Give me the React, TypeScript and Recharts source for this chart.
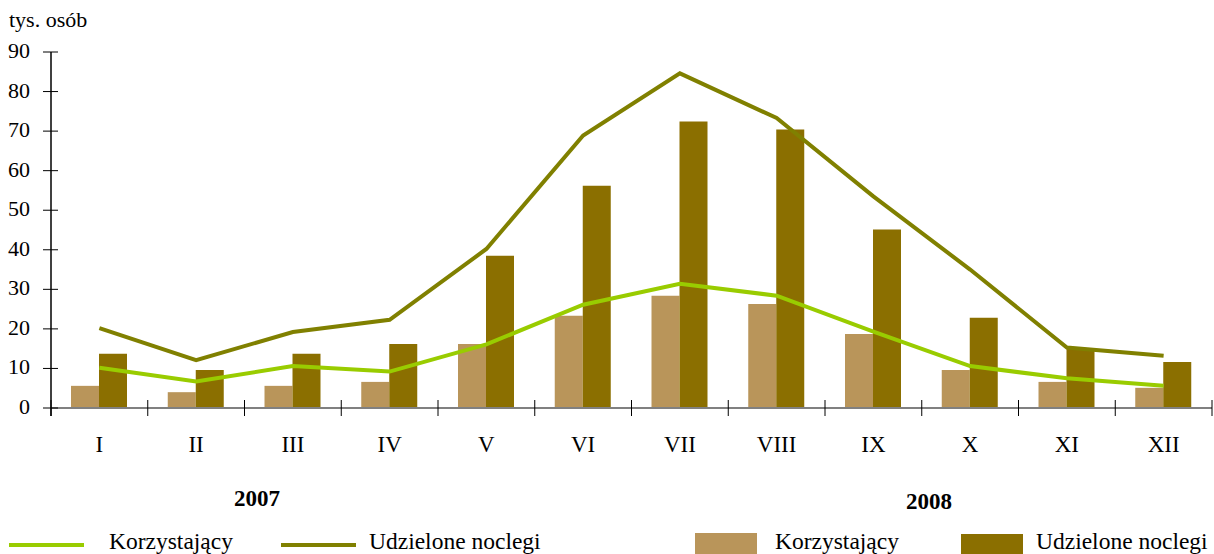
import { ComposedChart, Bar, Line, XAxis, YAxis } from 'recharts';

const months = ['I', 'II', 'III', 'IV', 'V', 'VI', 'VII', 'VIII', 'IX', 'X', 'XI', 'XII'];
// 2007 - lines
const korzystajacy2007 = [10.2, 6.7, 10.6, 9.2, 16.1, 26.1, 31.4, 28.4, 19.3, 10.6, 7.5, 5.6];
const noclegi2007 = [20.2, 12.1, 19.2, 22.3, 40.2, 68.9, 84.6, 73.3, 53.5, 35.0, 15.3, 13.2];
// 2008 - bars
const korzystajacy2008 = [5.6, 4.0, 5.6, 6.6, 16.2, 23.3, 28.4, 26.3, 18.7, 9.6, 6.6, 5.1];
const noclegi2008 = [13.7, 9.6, 13.7, 16.2, 38.5, 56.2, 72.4, 70.4, 45.1, 22.8, 15.1, 11.6];
const yTicks = [0, 10, 20, 30, 40, 50, 60, 70, 80, 90];

const data = months.map((m, i) => ({
  month: m,
  k2007: korzystajacy2007[i],
  n2007: noclegi2007[i],
  k2008: korzystajacy2008[i],
  n2008: noclegi2008[i],
}));

const FONT = '"Liberation Serif", "Times New Roman", serif';
const GREEN = '#99CC00';
const OLIVE = '#808000';
const TAN = '#B9955A';
const BROWN = '#8B6F00';

const W = 1214;
const H = 554;
const PLOT_LEFT = 51;
const PLOT_RIGHT = 1212;
const BAND = (PLOT_RIGHT - PLOT_LEFT) / months.length;

const XTick = ({ x, y, payload, index }: any) => (
  <g>
    <line x1={x - BAND / 2} x2={x - BAND / 2} y1={y - 8} y2={y + 8} stroke="#000" strokeWidth={1} />
    {index === months.length - 1 && (
      <line x1={x + BAND / 2} x2={x + BAND / 2} y1={y - 8} y2={y + 8} stroke="#000" strokeWidth={1} />
    )}
    <text x={x} y={y + 44} textAnchor="middle" fontFamily={FONT} fontSize={23} fill="#000">
      {payload.value}
    </text>
  </g>
);

const YTick = ({ y, payload }: any) => (
  <g>
    <line x1={PLOT_LEFT - 8} x2={PLOT_LEFT + 7} y1={y} y2={y} stroke="#000" strokeWidth={1} />
    {payload.value === 0 && (
      <line x1={PLOT_LEFT} x2={PLOT_LEFT} y1={y} y2={y + 8} stroke="#000" strokeWidth={1.5} />
    )}
    <text x={30} y={y + 6} textAnchor="end" fontFamily={FONT} fontSize={22} fill="#000">
      {payload.value}
    </text>
  </g>
);

export default function App() {
  return (
    <div style={{ position: 'absolute', left: 0, top: 0, width: W, height: H, background: '#fff', overflow: 'hidden' }}>
      <ComposedChart
        width={W}
        height={H}
        data={data}
        margin={{ top: 52, right: W - PLOT_RIGHT, left: 0, bottom: 86 }}
        barGap={0}
        barSize={28}
      >
        <XAxis
          dataKey="month"
          height={60}
          tickLine={false}
          tickSize={0}
          tickMargin={0}
          tick={<XTick />}
          axisLine={{ stroke: '#808080', strokeWidth: 2 }}
          interval={0}
        />
        <YAxis
          width={PLOT_LEFT}
          domain={[0, 90]}
          ticks={yTicks}
          tickLine={false}
          tick={<YTick />}
          axisLine={{ stroke: '#000', strokeWidth: 1.5 }}
        />
        <Bar dataKey="k2008" fill={TAN} isAnimationActive={false} />
        <Bar dataKey="n2008" fill={BROWN} isAnimationActive={false} />
        <Line dataKey="k2007" stroke={GREEN} strokeWidth={4} dot={false} type="linear" isAnimationActive={false} />
        <Line dataKey="n2007" stroke={OLIVE} strokeWidth={4} dot={false} type="linear" isAnimationActive={false} />
      </ComposedChart>
      <svg width={W} height={H} style={{ position: 'absolute', left: 0, top: 0, pointerEvents: 'none' }}>
        <text x={9} y={27} fontFamily={FONT} fontSize={22} fill="#000">tys. osób</text>
        <text x={257} y={506} textAnchor="middle" fontFamily={FONT} fontSize={23} fontWeight="bold" fill="#000">2007</text>
        <text x={929} y={509} textAnchor="middle" fontFamily={FONT} fontSize={23} fontWeight="bold" fill="#000">2008</text>

        <line x1={9} x2={84} y1={545} y2={545} stroke={GREEN} strokeWidth={4} />
        <text x={109} y={549} fontFamily={FONT} fontSize={23.5} fill="#000">Korzystający</text>
        <line x1={281} x2={356} y1={545} y2={545} stroke={OLIVE} strokeWidth={4} />
        <text x={369} y={549} fontFamily={FONT} fontSize={23.5} fill="#000">Udzielone noclegi</text>

        <rect x={695} y={533} width={62} height={21} fill={TAN} />
        <text x={775} y={549} fontFamily={FONT} fontSize={23.5} fill="#000">Korzystający</text>
        <rect x={961} y={534} width={62} height={20} fill={BROWN} />
        <text x={1036} y={549} fontFamily={FONT} fontSize={23.5} fill="#000">Udzielone noclegi</text>
      </svg>
    </div>
  );
}
